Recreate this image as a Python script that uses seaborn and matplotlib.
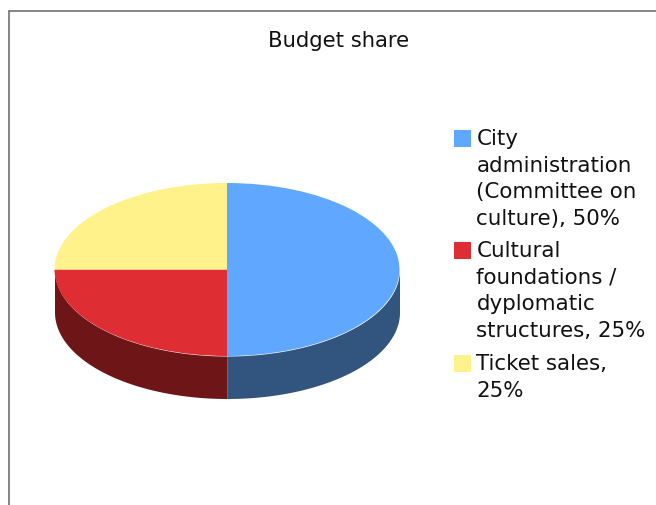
import numpy as np
import matplotlib
matplotlib.use("Agg")
import matplotlib.pyplot as plt
from matplotlib.patches import Rectangle
from matplotlib.lines import Line2D
import seaborn as sns

# Data
categories = ["City\nadministration\n(Committee on\nculture), 50%",
              "Cultural\nfoundations /\ndyplomatic\nstructures, 25%",
              "Ticket sales,\n25%"]
shares = [50, 25, 25]
top_colors = ["#60A8FF", "#DF2E33", "#FFF28A"]
side_colors = ["#31557F", "#6E1518", "#7F7945"]

W, H = 656, 506
sns.set_theme(style="white")
plt.rcParams['font.family'] = ['DejaVu Sans']

fig = plt.figure(figsize=(W / 100, H / 100), dpi=100, facecolor="white")


def px_x(x):
    return x / W


def px_y(y):
    return 1 - y / H


# Axes box fits the ellipse plus the wall below it
cx, cy, rx, ry, depth = 227, 270.5, 172.5, 86.5, 42.5
d = depth / ry
ax = fig.add_axes([px_x(cx - rx), px_y(cy + ry + depth), 2 * rx / W, (2 * ry + depth) / H])

palette = sns.color_palette(top_colors)
ax.pie(shares, colors=palette, startangle=90, counterclock=False, radius=1, center=(0, 0),
       frame=False, wedgeprops=dict(linewidth=0), normalize=True)
ax.set_aspect("auto")
ax.set_xlim(-1, 1)
ax.set_ylim(-1 - d, 1)
ax.axis("off")

# Wall of the 3D pie: only the part of each slice facing the viewer
edges = 90 - np.cumsum([0] + shares) / np.sum(shares) * 360
for i in range(len(shares)):
    hi, lo = edges[i], edges[i + 1]
    visible = []
    for shift in (0, -360, 360):
        a, b = max(lo + shift, -180), min(hi + shift, 0)
        if b > a:
            visible.append((a, b))
    for a, b in visible:
        t = np.radians(np.linspace(a, b, 200))
        ax.fill_between(np.cos(t), np.sin(t), np.sin(t) - d, color=side_colors[i], linewidth=0, zorder=0)

# Chart frame: left and top only, running off the picture
for xs, ys in [((9, 9), (11.5, H)), ((9, W), (11.5, 11.5))]:
    fig.add_artist(Line2D([px_x(x) for x in xs], [px_y(y) for y in ys], color="#666666", lw=1.1))

fig.text(px_x(338.5), px_y(41), "Budget share", ha="center", va="center", fontsize=15.2, color="#111111")

# Legend, placed by hand so the swatch sits on the first line
legend_tops = [131, 243, 356]
for label, color, top in zip(categories, palette, legend_tops):
    fig.add_artist(Rectangle((px_x(454), px_y(top + 17)), 17 / W, 17 / H, facecolor=color,
                             edgecolor="none", transform=fig.transFigure))
    fig.text(px_x(476.5), px_y(top - 2), label, ha="left", va="top", fontsize=15.4,
             color="#111111", linespacing=1.42)

fig.savefig("out.png", dpi=100)
